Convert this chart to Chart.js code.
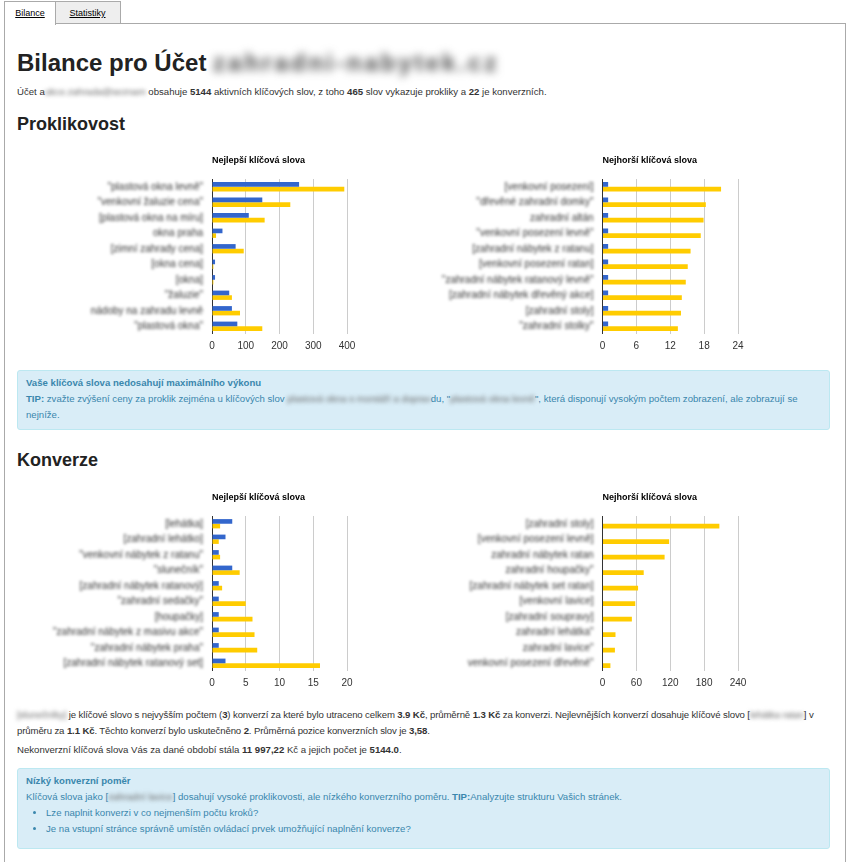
<!DOCTYPE html>
<html lang="cs">
<head>
<meta charset="utf-8">
<title>Bilance</title>
<script src="https://cdn.jsdelivr.net/npm/chart.js@4.4.1/dist/chart.umd.min.js"></script>
<style>
  body { margin: 0; background: #fff; font-family: "Liberation Sans", Arial, sans-serif; color: #333; }
  .page { position: relative; width: 847px; height: 862px; overflow: hidden; }
  .tab { position: absolute; top: 1px; height: 22px; border: 1px solid #aaa; border-bottom: none; font-size: 9px; line-height: 22px; text-align: center; }
  .tab a { color: #000; }
  .tab1 { left: 4px; width: 50px; background: #fff; z-index: 2; height: 23px; }
  .tab2 { left: 54px; width: 65px; background: #eee; }
  .panel { position: absolute; left: 4px; top: 23px; width: 840px; height: 860px; border: 1px solid #aaa; }
  .abs { position: absolute; left: 17px; margin: 0; }
  h1 { font-size: 24px; line-height: 30px; font-weight: bold; color: #222; top: 48px; }
  h2 { font-size: 18px; line-height: 22px; font-weight: bold; color: #222; }
  p, .alert { font-size: 9.6px; line-height: 16px; }
  .blur { filter: blur(2px); color: #666; white-space: nowrap; }
  .alert { position: absolute; left: 17px; width: 795px; background: #d9edf7; border: 1px solid #bce8f1; border-radius: 3px; color: #3a87ad; padding: 4px 8px; }
  .alert ul { margin: 0; padding-left: 20px; }
  canvas { position: absolute; }
</style>
</head>
<body>
<div class="page">
  <div class="tab tab1"><a href="#">Bilance</a></div>
  <div class="tab tab2"><a href="#" style="color:#000">Statistiky</a></div>
  <div class="panel"></div>

  <h1 class="abs">Bilance pro Účet <span class="blur" style="filter:blur(4px);color:#444;letter-spacing:3px">zahradni-nabytek.cz</span></h1>
  <p class="abs" style="top:84px">Účet a<span class="blur">ukce.zahrada@seznam</span> obsahuje <b>5144</b> aktivních klíčových slov, z toho <b>465</b> slov vykazuje prokliky a <b>22</b> je konverzních.</p>

  <h2 class="abs" style="top:113px">Proklikovost</h2>
  <canvas id="c1" width="395" height="210" style="left:17px;top:150px"></canvas>
  <canvas id="c2" width="395" height="210" style="left:417px;top:150px"></canvas>

  <div class="alert" style="top:370px;height:50px">
    <b>Vaše klíčová slova nedosahují maximálního výkonu</b><br>
    <b>TIP:</b> zvažte zvýšení ceny za proklik zejména u klíčových slov <span class="blur">plastová okna s montáží a doprav</span>du, "<span class="blur">plastová okna levně</span>", která disponují vysokým počtem zobrazení, ale zobrazují se nejníže.
  </div>

  <h2 class="abs" style="top:449px">Konverze</h2>
  <canvas id="c3" width="395" height="210" style="left:17px;top:487px"></canvas>
  <canvas id="c4" width="395" height="210" style="left:417px;top:487px"></canvas>

  <p class="abs" style="top:707px;width:815px;letter-spacing:-0.12px">
    <span class="blur">[slunečníky]</span> je klíčové slovo s nejvyšším počtem (<b>3</b>) konverzí za které bylo utraceno celkem <b>3.9 Kč</b>, průměrně <b>1.3 Kč</b> za konverzi. Nejlevnějších konverzí dosahuje klíčové slovo [<span class="blur">lehátka ratan</span>] v průměru za <b>1.1 Kč</b>. Těchto konverzí bylo uskutečněno <b>2</b>. Průměrná pozice konverzních slov je <b>3,58</b>.
  </p>
  <p class="abs" style="top:742px">Nekonverzní klíčová slova Vás za dané období stála <b>11 997,22</b> Kč a jejich počet je <b>5144.0</b>.</p>

  <div class="alert" style="top:768px;height:71px">
    <b>Nízký konverzní poměr</b><br>
    Klíčová slova jako [<span class="blur">zahradní lavice</span>] dosahují vysoké proklikovosti, ale nízkého konverzního poměru. <b>TIP:</b>Analyzujte strukturu Vašich stránek.
    <ul>
      <li>Lze naplnit konverzi v co nejmenším počtu kroků?</li>
      <li>Je na vstupní stránce správně umístěn ovládací prvek umožňující naplnění konverze?</li>
    </ul>
  </div>
</div>

<script>
// Proklikovost - nejlepší
const bestClickLabels = ['"plastová okna levně"', '"venkovní žaluzie cena"', '[plastová okna na míru]', 'okna praha',
  '[zimní zahrady cena]', '[okna cena]', '[okna]', '"žaluzie"', 'nádoby na zahradu levně', '"plastová okna"'];
const bestClickBlue = [258, 149, 109, 31, 70, 9, 9, 51, 59, 75];
const bestClickYellow = [392, 232, 156, 12, 94, 4, 4, 59, 83, 149];
const bestClickTicks = [0, 100, 200, 300, 400];

// Proklikovost - nejhorší
const worstClickLabels = ['[venkovní posezení]', '"dřevěné zahradní domky"', 'zahradní altán', '"venkovní posezení levně"',
  '[zahradní nábytek z ratanu]', '[venkovní posezení ratan]', '"zahradní nábytek ratanový levně"',
  '[zahradní nábytek dřevěný akce]', '[zahradní stoly]', '"zahradní stolky"'];
const worstClickBlue = [1, 1, 1, 1, 1, 1, 1, 1, 1, 1];
const worstClickYellow = [21.0, 18.3, 17.9, 17.4, 15.6, 15.1, 14.75, 14.05, 13.9, 13.35];
const worstClickTicks = [0, 6, 12, 18, 24];

// Konverze - nejlepší
const bestConvLabels = ['[lehátka]', '[zahradní lehátko]', '"venkovní nábytek z ratanu"', '"slunečník"',
  '[zahradní nábytek ratanový]', '"zahradní sedačky"', '[houpačky]', '"zahradní nábytek z masivu akce"',
  '"zahradní nábytek praha"', '[zahradní nábytek ratanový set]'];
const bestConvBlue = [3, 2, 1, 3, 1, 1, 1, 1, 1, 2];
const bestConvYellow = [1.2, 1.0, 1.2, 4.1, 1.5, 5.0, 6.0, 6.3, 6.7, 16.0];
const bestConvTicks = [0, 5, 10, 15, 20];

// Konverze - nejhorší
const worstConvLabels = ['[zahradní stoly]', '[venkovní posezení levně]', 'zahradní nábytek ratan', 'zahradní houpačky"',
  '[zahradní nábytek set ratan]', '[venkovní lavice]', '[zahradní soupravy]', 'zahradní lehátka"',
  'zahradní lavice"', 'venkovní posezení dřevěné"'];
const worstConvBlue = [0, 0, 0, 0, 0, 0, 0, 0, 0, 0];
const worstConvYellow = [207, 118, 110, 73, 63, 58, 52, 23, 22, 14];
const worstConvTicks = [0, 60, 120, 180, 240];

// titulek a rozmazané popisky kreslí plugin
const blurLabels = {
  id: 'blurLabels',
  afterDraw(chart, args, opts) {
    const ctx = chart.ctx;
    const y = chart.scales.y;
    const left = chart.chartArea.left;
    ctx.save();
    ctx.fillStyle = '#000';
    ctx.font = 'bold 9px "Liberation Sans", Arial';
    ctx.textBaseline = 'middle';
    ctx.textAlign = 'left';
    ctx.fillText(opts.title, left, 11);
    ctx.filter = 'blur(1.5px)';
    ctx.fillStyle = '#333';
    ctx.font = '10px "Liberation Sans", Arial';
    ctx.textAlign = 'right';
    chart.data.labels.forEach((l, i) => {
      ctx.fillText(l, left - 9, y.getPixelForTick(i));
    });
    ctx.restore();
  }
};

function makeChart(id, title, labels, blue, yellow, ticks, yWidth, padRight) {
  return new Chart(document.getElementById(id), {
    type: 'bar',
    data: {
      labels: labels,
      datasets: [
        { data: blue, backgroundColor: '#3366cc' },
        { data: yellow, backgroundColor: '#ffcc00' }
      ]
    },
    options: {
      indexAxis: 'y',
      responsive: false,
      animation: false,
      categoryPercentage: 0.6,
      barPercentage: 1.0,
      layout: { padding: { top: 29, right: padRight } },
      plugins: {
        legend: { display: false },
        tooltip: { enabled: false },
        blurLabels: { title: title }
      },
      scales: {
        x: {
          min: ticks[0],
          max: ticks[ticks.length - 1],
          afterBuildTicks: s => { s.ticks = ticks.map(v => ({ value: v })); },
          afterFit: s => { s.height = 26; },
          ticks: { color: '#333', font: { size: 10, family: '"Liberation Sans", Arial' }, padding: 6 },
          grid: {
            drawTicks: false,
            color: c => c.tick && c.tick.value === 0 ? '#333' : '#cccccc'
          },
          border: { display: false }
        },
        y: {
          afterFit: s => { s.width = yWidth; },
          ticks: { display: false },
          grid: { display: false },
          border: { display: false }
        }
      }
    },
    plugins: [blurLabels]
  });
}

makeChart('c1', 'Nejlepší klíčová slova', bestClickLabels, bestClickBlue, bestClickYellow, bestClickTicks, 195, 65);
makeChart('c2', 'Nejhorší klíčová slova', worstClickLabels, worstClickBlue, worstClickYellow, worstClickTicks, 185.5, 74);
makeChart('c3', 'Nejlepší klíčová slova', bestConvLabels, bestConvBlue, bestConvYellow, bestConvTicks, 195, 65);
makeChart('c4', 'Nejhorší klíčová slova', worstConvLabels, worstConvBlue, worstConvYellow, worstConvTicks, 185.5, 74);
</script>
</body>
</html>
